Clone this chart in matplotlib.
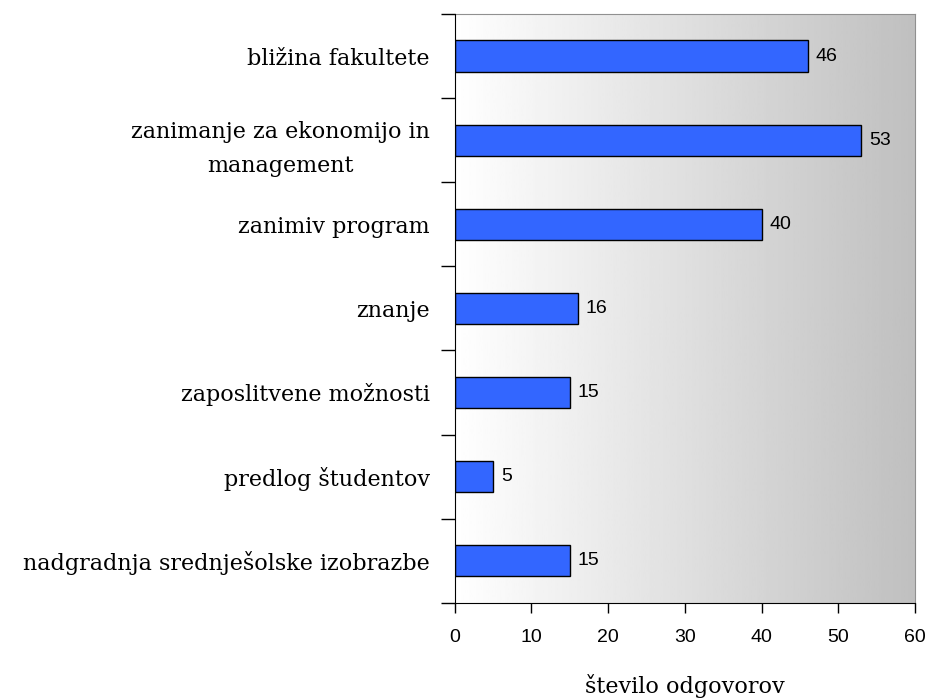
import numpy as np
from matplotlib import pyplot as plt

razlogi = ["bližina fakultete",
           "zanimanje za ekonomijo in\nmanagement",
           "zanimiv program",
           "znanje",
           "zaposlitvene možnosti",
           "predlog študentov",
           "nadgradnja srednješolske izobrazbe"]
odgovori = [46, 53, 40, 16, 15, 5, 15]
xTicks = [0, 10, 20, 30, 40, 50, 60]

fig = plt.figure(figsize=(9.3, 7), dpi=100)
ax = fig.add_axes([0.489, 0.139, 0.495, 0.841])

n = len(razlogi)
pos = np.arange(n)[::-1]

# gradient background white -> gray
grad = np.linspace(1.0, 0.75, 256).reshape(1, -1)
ax.imshow(grad, cmap="gray", vmin=0, vmax=1, aspect="auto",
          extent=[0, 60, -0.5, n - 0.5], zorder=0)

ax.barh(pos, odgovori, height=0.37, color="#3366FF", edgecolor="black",
        linewidth=1, zorder=2)
for p, v in zip(pos, odgovori):
    ax.text(v + 1.0, p, str(v), va="center", ha="left", fontsize=14,
            family="Liberation Sans", zorder=3)

ax.set_xlim(0, 60)
ax.set_ylim(-0.5, n - 0.5)
ax.set_xticks(xTicks)
ax.set_xticklabels([str(t) for t in xTicks], family="Liberation Sans", fontsize=14)
ax.tick_params(axis="x", direction="out", length=7, width=1, pad=12)

ax.set_yticks(pos)
ax.set_yticklabels(razlogi, family="DejaVu Serif", fontsize=16,
                   multialignment="center", linespacing=1.75)
ax.tick_params(axis="y", which="major", length=0, pad=18)
ax.set_yticks(np.arange(n + 1) - 0.5, minor=True)
ax.tick_params(axis="y", which="minor", direction="out", length=10, width=1)

for s in ["top", "right"]:
    ax.spines[s].set_color("#909090")
for s in ["left", "bottom"]:
    ax.spines[s].set_color("black")
    ax.spines[s].set_zorder(4)

ax.set_xlabel("število odgovorov", family="DejaVu Serif", fontsize=16,
              labelpad=20)

plt.savefig("out.png")
plt.close()
